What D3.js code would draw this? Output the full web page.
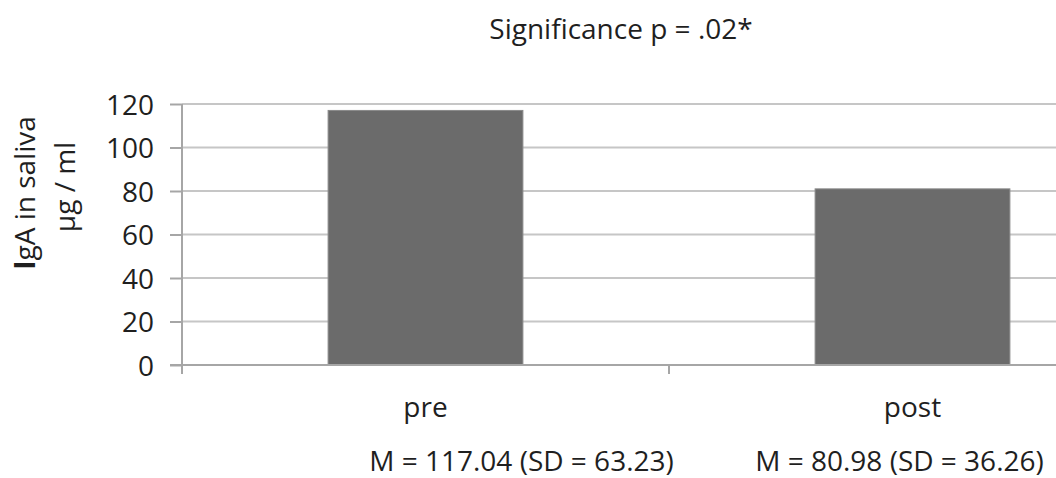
<!DOCTYPE html>
<html><head><meta charset="utf-8">
<script src="https://cdn.jsdelivr.net/npm/d3@7"></script>
<style>
html,body{margin:0;padding:0;background:#fff;}
svg{display:block;}
text{font-family:"Open Sans", Lato, sans-serif;}
</style></head>
<body>
<svg id="chart" width="1056" height="478"></svg>
<script>
const categories = ["pre", "post"];
const means = [117.04, 80.98];
const sds = [63.23, 36.26];
const yTicks = [0, 20, 40, 60, 80, 100, 120];
const titleText = "Significance p = .02*";

const FONT = "'Open Sans', Lato, sans-serif";
const FS = 28;
const svg = d3.select("#chart");
const x = d3.scaleBand().domain(categories).range([182, 1156]).padding(0);
const y = d3.scaleLinear().domain([0, 120]).range([365, 104]);

// gridlines
svg.append("g").selectAll("line").data(yTicks.filter(d => d > 0)).join("line")
  .attr("x1", 182).attr("x2", 1056)
  .attr("y1", d => y(d)).attr("y2", d => y(d))
  .attr("stroke", "#c6c6c6").attr("stroke-width", 2);

// bars
const bw = x.bandwidth() * 0.4;
svg.append("g").selectAll("rect").data(categories).join("rect")
  .attr("x", d => x(d) + x.bandwidth() / 2 - bw / 2)
  .attr("width", bw)
  .attr("y", (d, i) => y(means[i]))
  .attr("height", (d, i) => y(0) - y(means[i]))
  .attr("fill", "#6b6b6b")
  .attr("stroke", "#8a8a8a").attr("stroke-width", 1);

// y axis
const yAxis = d3.axisLeft(y).tickValues(yTicks).tickSize(12).tickPadding(16).tickFormat(d3.format("d"));
const gy = svg.append("g").attr("transform", "translate(182,0)").call(yAxis);
gy.select(".domain").attr("stroke", "#a6a6a6").attr("stroke-width", 2).attr("d", "M0,104V374");
gy.selectAll(".tick line").attr("stroke", "#a6a6a6").attr("stroke-width", 2);
gy.selectAll(".tick text").attr("font-size", FS).attr("fill", "#1f1f1f")
  .attr("font-family", FONT).attr("dy", "0.36em");

// x axis
const gx = svg.append("g").attr("transform", "translate(0,365)");
gx.append("line").attr("x1", 170).attr("x2", 1056).attr("y1", 0).attr("y2", 0)
  .attr("stroke", "#a6a6a6").attr("stroke-width", 2);
gx.selectAll("line.cat").data(categories).join("line").attr("class", "cat")
  .attr("x1", d => x(d) + x.bandwidth()).attr("x2", d => x(d) + x.bandwidth())
  .attr("y1", 0).attr("y2", 9).attr("stroke", "#a6a6a6").attr("stroke-width", 2);
gx.selectAll("text.cat").data(categories).join("text").attr("class", "cat")
  .attr("x", d => x(d) + x.bandwidth() / 2).attr("y", 52)
  .attr("text-anchor", "middle").attr("font-size", FS).attr("fill", "#1f1f1f")
  .text(d => d);
gx.selectAll("text.stat").data(categories).join("text").attr("class", "stat")
  .attr("x", (d, i) => x(d) + x.bandwidth() / 2 + (i === 0 ? 96 : -13)).attr("y", 106)
  .attr("text-anchor", "middle").attr("font-size", FS).attr("fill", "#1f1f1f")
  .text((d, i) => `M = ${means[i].toFixed(2)} (SD = ${sds[i].toFixed(2)})`);

// title
svg.append("text").attr("x", 621).attr("y", 39).attr("text-anchor", "middle")
  .attr("font-size", FS).attr("fill", "#1f1f1f").text(titleText);

// y label
const yl = svg.append("text").attr("transform", "translate(35,193) rotate(-90)")
  .attr("text-anchor", "middle").attr("font-size", FS).attr("fill", "#1f1f1f");
yl.append("tspan").attr("font-weight", "bold").text("I");
yl.append("tspan").text("gA in saliva");
svg.append("text").attr("transform", "translate(75,187) rotate(-90)")
  .attr("text-anchor", "middle").attr("font-size", FS).attr("fill", "#1f1f1f").text("µg / ml");
</script>
</body></html>
